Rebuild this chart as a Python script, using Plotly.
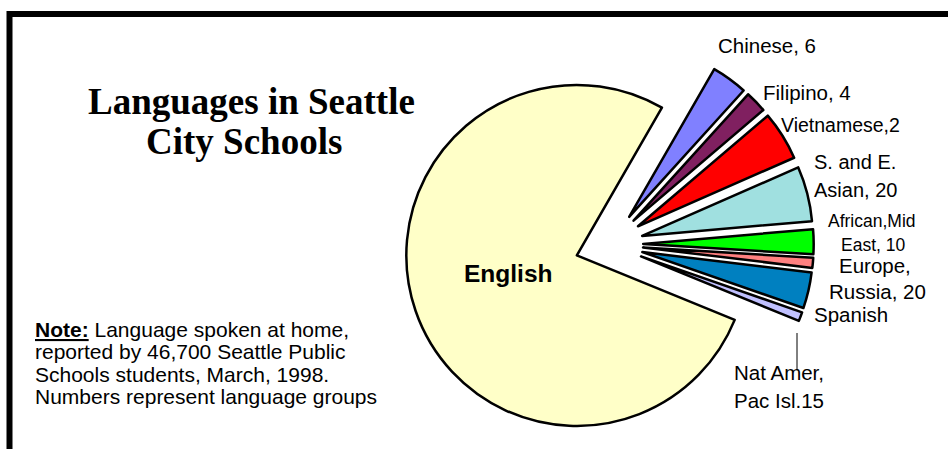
import plotly.graph_objects as go

# ---- data (slice sizes are share of students, %) ----
languages = ["English", "Chinese", "Filipino", "Vietnamese", "S. and E. Asian",
             "African, Mid East", "Europe, Russia", "Spanish", "Nat Amer, Pac Isl"]
shares = [77.15, 3.4, 2.05, 4.65, 5.2, 2.35, 0.95, 3.4, 0.85]
colors = ["#FFFFC8", "#8080FF", "#802060", "#FF0000", "#A0E0E0",
          "#00FF00", "#FF8080", "#0080C0", "#C0C0FF"]
slice_labels = ["Chinese, 6", "Filipino, 4", "Vietnamese,2", "S. and E.", "Asian, 20",
                "African,Mid", "East, 10", "Europe,", "Russia, 20", "Spanish",
                "Nat Amer,", "Pac Isl.15"]
title_lines = ["Languages in Seattle", "City Schools"]
note_lines = ["<b><u>Note:</u></b> Language spoken at home,",
              "reported by 46,700 Seattle Public",
              "Schools students, March, 1998.",
              "Numbers represent language groups"]

W, H = 948, 449
def px(x):
    return x / W
def py(y):
    return 1 - y / H

fig = go.Figure()
fig.add_trace(go.Pie(
    labels=languages, values=shares, sort=False, direction="clockwise",
    rotation=112.2, pull=[0.2] * len(shares),
    marker=dict(colors=colors, line=dict(color="black", width=2.5)),
    textinfo="none", hoverinfo="label+percent", showlegend=False,
    domain=dict(x=[0.40, 0.885], y=[0.0, 0.9114]),
))

ARIAL = "Arial, Liberation Sans, sans-serif"
TIMES = "Times New Roman, Liberation Serif, serif"
ann = []
# title
ann.append(dict(x=px(251), y=py(102), text="<b>%s</b>" % title_lines[0],
                font=dict(family=TIMES, size=37, color="black")))
ann.append(dict(x=px(244), y=py(142), text="<b>%s</b>" % title_lines[1],
                font=dict(family=TIMES, size=37, color="black")))
# note
for i, t in enumerate(note_lines):
    ann.append(dict(x=px(33), y=py(329 + i * 22.5), text=t, xanchor="left",
                    font=dict(family=ARIAL, size=21, color="black")))
# English inside label
ann.append(dict(x=px(508), y=py(273), text="<b>English</b>",
                font=dict(family=ARIAL, size=24.5, color="black")))
# slice labels
pos = [(767, 45, 20.5, "center"), (807, 92, 20.5, "center"), (840, 125, 19.5, "center"),
       (855, 162, 20, "center"), (855, 190, 20, "center"),
       (872, 221, 17.5, "center"), (873, 245, 17.5, "center"),
       (875, 265, 20.5, "center"), (877, 291, 20.5, "center"),
       (812, 314, 20.5, "left"), (779, 372, 20.5, "center"), (779, 400, 20.5, "center")]
for t, (x, y, s, a) in zip(slice_labels, pos):
    ann.append(dict(x=px(x), y=py(y), text=t, xanchor=a,
                    font=dict(family=ARIAL, size=s, color="black")))
for a in ann:
    a.update(xref="paper", yref="paper", showarrow=False, yanchor="middle")
    a.setdefault("xanchor", "center")

shapes = [
    dict(type="line", xref="paper", yref="paper", x0=px(797), x1=px(797),
         y0=py(333), y1=py(370), line=dict(color="black", width=1)),
    dict(type="line", xref="paper", yref="paper", x0=px(7), x1=1.0,
         y0=py(14), y1=py(14), line=dict(color="black", width=6)),
    dict(type="line", xref="paper", yref="paper", x0=px(9.5), x1=px(9.5),
         y0=py(11), y1=0.0, line=dict(color="black", width=6)),
]

fig.update_layout(width=W, height=H, margin=dict(l=0, r=0, t=0, b=0),
                  paper_bgcolor="white", plot_bgcolor="white",
                  annotations=ann, shapes=shapes)
fig.write_html("out.html")
